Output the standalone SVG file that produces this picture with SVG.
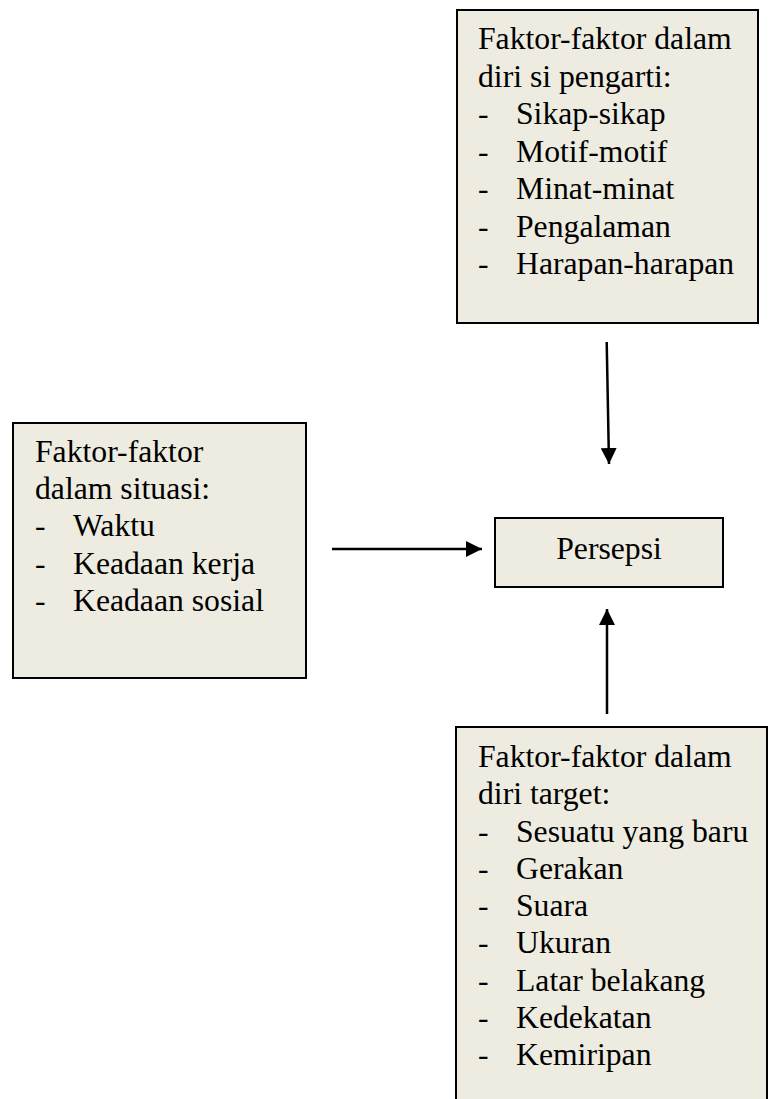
<svg xmlns="http://www.w3.org/2000/svg" width="769" height="1099" viewBox="0 0 769 1099">
<style>
.box{fill:#EEECE1;stroke:#000;stroke-width:2}
.t{font-family:"Liberation Serif","Times New Roman",serif;font-size:31.7px;fill:#000}
.c{stroke:#000;stroke-width:2.5;fill:none}
</style>
<defs>
<marker id="ah" markerWidth="16" markerHeight="16" refX="16" refY="8" orient="auto" markerUnits="userSpaceOnUse">
<path d="M0,0 L16,8 L0,16 Z" fill="#000"/>
</marker>
</defs>
<rect width="769" height="1099" fill="#fff"/>
<g id="node-pengarti">
<rect class="box" x="457" y="10" width="301" height="313"/>
<text class="t" x="478" y="49">Faktor-faktor dalam</text>
<text class="t" x="478" y="86.5">diri si pengarti:</text>
<text class="t" x="478" y="124">-</text><text class="t" x="516" y="124">Sikap-sikap</text>
<text class="t" x="478" y="161.5">-</text><text class="t" x="516" y="161.5">Motif-motif</text>
<text class="t" x="478" y="199">-</text><text class="t" x="516" y="199">Minat-minat</text>
<text class="t" x="478" y="236.5">-</text><text class="t" x="516" y="236.5">Pengalaman</text>
<text class="t" x="478" y="274">-</text><text class="t" x="516" y="274">Harapan-harapan</text>
</g>
<g id="node-situasi">
<rect class="box" x="13" y="423" width="293" height="255"/>
<text class="t" x="35" y="462">Faktor-faktor</text>
<text class="t" x="35" y="499">dalam situasi:</text>
<text class="t" x="35" y="536">-</text><text class="t" x="73" y="536">Waktu</text>
<text class="t" x="35" y="574">-</text><text class="t" x="73" y="574">Keadaan kerja</text>
<text class="t" x="35" y="611">-</text><text class="t" x="73" y="611">Keadaan sosial</text>
</g>
<g id="node-persepsi">
<rect class="box" x="495" y="518" width="228" height="69"/>
<text class="t" x="609" y="559" text-anchor="middle">Persepsi</text>
</g>
<g id="node-target">
<rect class="box" x="456" y="727" width="311" height="380"/>
<text class="t" x="478" y="767">Faktor-faktor dalam</text>
<text class="t" x="478" y="804">diri target:</text>
<text class="t" x="478" y="841.5">-</text><text class="t" x="516" y="841.5">Sesuatu yang baru</text>
<text class="t" x="478" y="878.7">-</text><text class="t" x="516" y="878.7">Gerakan</text>
<text class="t" x="478" y="916">-</text><text class="t" x="516" y="916">Suara</text>
<text class="t" x="478" y="953.2">-</text><text class="t" x="516" y="953.2">Ukuran</text>
<text class="t" x="478" y="990.5">-</text><text class="t" x="516" y="990.5">Latar belakang</text>
<text class="t" x="478" y="1027.7">-</text><text class="t" x="516" y="1027.7">Kedekatan</text>
<text class="t" x="478" y="1065">-</text><text class="t" x="516" y="1065">Kemiripan</text>
</g>
<g id="connectors">
<line class="c" x1="606.7" y1="342" x2="609" y2="464" marker-end="url(#ah)"/>
<line class="c" x1="332" y1="549" x2="482" y2="549" marker-end="url(#ah)"/>
<line class="c" x1="607" y1="714" x2="607" y2="609" marker-end="url(#ah)"/>
</g>
</svg>
